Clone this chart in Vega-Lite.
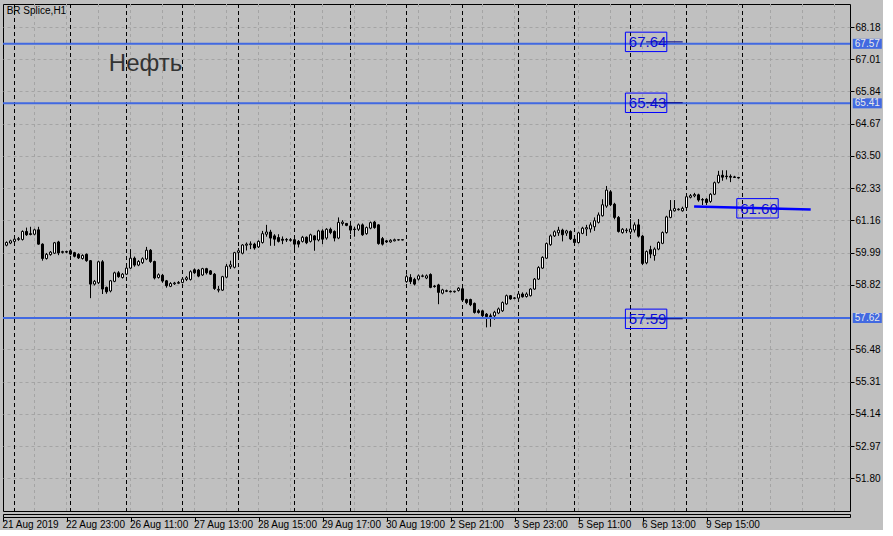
{
 "$schema": "https://vega.github.io/schema/vega-lite/v6.json",
 "background": "#c0c0c0",
 "padding": {"left": 1, "top": 3, "right": 0, "bottom": 0},
 "spacing": 0,
 "config": {
  "view": {"stroke": "#000000", "strokeWidth": 1},
  "font": "Liberation Sans",
  "scale": {"continuousPadding": 0},
  "axis": {"labelFont": "Liberation Sans", "labelFontSize": 10, "labelColor": "#000000", "tickColor": "#000000", "domain": false, "labelOverlap": false}
 },
 "datasets": {
  "candles": [
   {"i":0,"o":60.50,"h":60.55,"l":60.20,"c":60.26},{"i":1,"o":60.26,"h":60.40,"l":60.22,"c":60.36},{"i":2,"o":60.34,"h":60.46,"l":60.30,"c":60.42},{"i":3,"o":60.40,"h":60.53,"l":60.35,"c":60.48},{"i":4,"o":60.47,"h":60.56,"l":60.42,"c":60.50},
   {"i":5,"o":60.47,"h":60.80,"l":60.43,"c":60.76},{"i":6,"o":60.76,"h":60.90,"l":60.60,"c":60.64},{"i":7,"o":60.68,"h":60.93,"l":60.62,"c":60.65},{"i":8,"o":60.66,"h":60.86,"l":60.62,"c":60.82},{"i":9,"o":60.82,"h":60.93,"l":60.28,"c":60.30},
   {"i":10,"o":60.30,"h":60.33,"l":59.70,"c":59.78},{"i":11,"o":59.78,"h":59.98,"l":59.74,"c":59.93},{"i":12,"o":59.92,"h":60.05,"l":59.88,"c":60.01},{"i":13,"o":59.97,"h":60.38,"l":59.94,"c":60.35},{"i":14,"o":60.38,"h":60.42,"l":59.90,"c":59.98},
   {"i":15,"o":60.00,"h":60.06,"l":59.96,"c":60.03},{"i":16,"o":60.03,"h":60.06,"l":59.97,"c":60.01},{"i":17,"o":60.06,"h":60.10,"l":59.90,"c":59.94},{"i":18,"o":59.99,"h":60.02,"l":59.82,"c":59.86},{"i":19,"o":59.93,"h":59.97,"l":59.76,"c":59.80},
   {"i":20,"o":59.78,"h":59.93,"l":59.74,"c":59.89},{"i":21,"o":59.93,"h":59.96,"l":59.66,"c":59.70},{"i":22,"o":59.70,"h":59.72,"l":58.34,"c":58.85},{"i":23,"o":58.85,"h":59.00,"l":58.80,"c":58.95},{"i":24,"o":58.90,"h":59.70,"l":58.85,"c":59.66},
   {"i":25,"o":59.66,"h":59.72,"l":58.49,"c":58.67},{"i":26,"o":58.73,"h":58.76,"l":58.50,"c":58.57},{"i":27,"o":58.60,"h":59.00,"l":58.55,"c":58.97},{"i":28,"o":58.95,"h":59.30,"l":58.92,"c":59.26},{"i":29,"o":59.26,"h":59.32,"l":59.08,"c":59.12},
   {"i":30,"o":59.09,"h":59.25,"l":59.05,"c":59.21},{"i":31,"o":59.21,"h":59.48,"l":59.18,"c":59.43},{"i":32,"o":59.43,"h":60.12,"l":59.40,"c":59.79},{"i":33,"o":59.79,"h":59.85,"l":59.48,"c":59.54},{"i":34,"o":59.54,"h":59.72,"l":59.50,"c":59.67},
   {"i":35,"o":59.63,"h":59.82,"l":59.58,"c":59.77},{"i":36,"o":59.76,"h":60.20,"l":59.72,"c":60.08},{"i":37,"o":60.08,"h":60.12,"l":59.62,"c":59.67},{"i":38,"o":59.67,"h":59.70,"l":59.02,"c":59.07},{"i":39,"o":59.09,"h":59.24,"l":59.05,"c":59.19},
   {"i":40,"o":59.17,"h":59.22,"l":58.90,"c":58.96},{"i":41,"o":58.97,"h":59.00,"l":58.72,"c":58.79},{"i":42,"o":58.77,"h":58.92,"l":58.74,"c":58.87},{"i":43,"o":58.86,"h":58.93,"l":58.82,"c":58.89},{"i":44,"o":58.88,"h":58.96,"l":58.85,"c":58.91},
   {"i":45,"o":58.91,"h":59.08,"l":58.88,"c":59.03},{"i":46,"o":59.02,"h":59.14,"l":58.96,"c":59.08},{"i":47,"o":59.02,"h":59.35,"l":58.98,"c":59.30},{"i":48,"o":59.37,"h":59.42,"l":59.22,"c":59.26},{"i":49,"o":59.36,"h":59.40,"l":59.10,"c":59.14},
   {"i":50,"o":59.18,"h":59.44,"l":59.15,"c":59.41},{"i":51,"o":59.41,"h":59.44,"l":59.20,"c":59.26},{"i":52,"o":59.33,"h":59.36,"l":59.18,"c":59.21},{"i":53,"o":59.21,"h":59.25,"l":58.64,"c":58.69},{"i":54,"o":58.63,"h":58.78,"l":58.55,"c":58.66},
   {"i":55,"o":58.63,"h":59.15,"l":58.60,"c":59.12},{"i":56,"o":59.10,"h":59.58,"l":59.06,"c":59.50},{"i":57,"o":59.48,"h":59.70,"l":59.40,"c":59.55},{"i":58,"o":59.46,"h":60.02,"l":59.42,"c":59.99},{"i":59,"o":60.00,"h":60.16,"l":59.83,"c":60.06},
   {"i":60,"o":59.97,"h":60.30,"l":59.93,"c":60.27},{"i":61,"o":60.26,"h":60.36,"l":60.07,"c":60.30},{"i":62,"o":60.28,"h":60.40,"l":60.12,"c":60.31},{"i":63,"o":60.30,"h":60.35,"l":60.10,"c":60.16},{"i":64,"o":60.20,"h":60.44,"l":60.16,"c":60.40},
   {"i":65,"o":60.36,"h":60.78,"l":60.32,"c":60.68},{"i":66,"o":60.66,"h":61.00,"l":60.57,"c":60.74},{"i":67,"o":60.74,"h":60.82,"l":60.24,"c":60.52},{"i":68,"o":60.60,"h":60.66,"l":60.24,"c":60.48},{"i":69,"o":60.54,"h":60.66,"l":60.36,"c":60.40},
   {"i":70,"o":60.48,"h":60.58,"l":60.30,"c":60.44},{"i":71,"o":60.45,"h":60.52,"l":60.38,"c":60.47},{"i":72,"o":60.46,"h":60.52,"l":60.39,"c":60.44},{"i":73,"o":60.46,"h":60.55,"l":60.06,"c":60.30},{"i":74,"o":60.40,"h":60.45,"l":60.18,"c":60.30},
   {"i":75,"o":60.40,"h":60.60,"l":60.36,"c":60.55},{"i":76,"o":60.55,"h":60.58,"l":60.30,"c":60.35},{"i":77,"o":60.40,"h":60.68,"l":60.36,"c":60.64},{"i":78,"o":60.60,"h":60.62,"l":60.06,"c":60.45},{"i":79,"o":60.45,"h":60.82,"l":60.40,"c":60.78},
   {"i":80,"o":60.78,"h":60.84,"l":60.30,"c":60.48},{"i":81,"o":60.52,"h":60.88,"l":60.46,"c":60.84},{"i":82,"o":60.84,"h":60.90,"l":60.66,"c":60.72},{"i":83,"o":60.76,"h":60.80,"l":60.40,"c":60.52},{"i":84,"o":60.52,"h":61.27,"l":60.48,"c":61.09},
   {"i":85,"o":61.05,"h":61.17,"l":60.97,"c":61.10},{"i":86,"o":61.05,"h":61.07,"l":60.95,"c":60.98},{"i":87,"o":60.96,"h":61.05,"l":60.66,"c":60.81},{"i":88,"o":60.85,"h":60.93,"l":60.57,"c":60.83},{"i":89,"o":60.84,"h":61.05,"l":60.78,"c":61.00},
   {"i":90,"o":61.00,"h":61.05,"l":60.60,"c":60.64},{"i":91,"o":60.68,"h":60.94,"l":60.64,"c":60.90},{"i":92,"o":60.88,"h":61.12,"l":60.84,"c":61.08},{"i":93,"o":61.10,"h":61.14,"l":60.86,"c":60.90},{"i":94,"o":61.00,"h":61.02,"l":60.28,"c":60.32},
   {"i":95,"o":60.50,"h":60.56,"l":60.25,"c":60.30},{"i":96,"o":60.42,"h":60.45,"l":60.34,"c":60.38},{"i":97,"o":60.38,"h":60.48,"l":60.35,"c":60.44},{"i":98,"o":60.42,"h":60.50,"l":60.40,"c":60.46},{"i":99,"o":60.45,"h":60.47,"l":60.43,"c":60.46},
   {"i":100,"o":60.46,"h":60.47,"l":60.44,"c":60.45},{"i":101,"o":58.94,"h":59.20,"l":58.90,"c":59.12},{"i":102,"o":59.09,"h":59.21,"l":58.85,"c":58.94},{"i":103,"o":59.02,"h":59.08,"l":58.80,"c":58.85},{"i":104,"o":59.03,"h":59.20,"l":58.98,"c":59.15},
   {"i":105,"o":59.13,"h":59.20,"l":59.10,"c":59.15},{"i":106,"o":59.07,"h":59.20,"l":59.03,"c":59.15},{"i":107,"o":59.20,"h":59.24,"l":58.70,"c":58.73},{"i":108,"o":58.78,"h":58.82,"l":58.72,"c":58.76},{"i":109,"o":58.82,"h":58.86,"l":58.12,"c":58.55},
   {"i":110,"o":58.52,"h":58.68,"l":58.48,"c":58.64},{"i":111,"o":58.61,"h":58.65,"l":58.56,"c":58.59},{"i":112,"o":58.59,"h":58.62,"l":58.55,"c":58.57},{"i":113,"o":58.57,"h":58.61,"l":58.54,"c":58.59},{"i":114,"o":58.62,"h":58.74,"l":58.58,"c":58.70},
   {"i":115,"o":58.68,"h":58.72,"l":58.22,"c":58.27},{"i":116,"o":58.29,"h":58.32,"l":58.12,"c":58.18},{"i":117,"o":58.29,"h":58.32,"l":58.05,"c":58.10},{"i":118,"o":58.15,"h":58.18,"l":57.78,"c":57.82},{"i":119,"o":57.88,"h":57.94,"l":57.78,"c":57.82},
   {"i":120,"o":57.88,"h":57.92,"l":57.66,"c":57.70},{"i":121,"o":57.76,"h":57.80,"l":57.28,"c":57.67},{"i":122,"o":57.70,"h":57.78,"l":57.30,"c":57.67},{"i":123,"o":57.70,"h":57.88,"l":57.56,"c":57.83},{"i":124,"o":57.80,"h":58.00,"l":57.76,"c":57.95},
   {"i":125,"o":57.88,"h":58.22,"l":57.84,"c":58.18},{"i":126,"o":58.13,"h":58.47,"l":58.10,"c":58.43},{"i":127,"o":58.43,"h":58.45,"l":58.28,"c":58.31},{"i":128,"o":58.33,"h":58.38,"l":58.30,"c":58.35},{"i":129,"o":58.34,"h":58.53,"l":58.30,"c":58.49},
   {"i":130,"o":58.49,"h":58.55,"l":58.36,"c":58.39},{"i":131,"o":58.40,"h":58.55,"l":58.36,"c":58.49},{"i":132,"o":58.43,"h":58.70,"l":58.40,"c":58.67},{"i":133,"o":58.67,"h":59.07,"l":58.64,"c":59.03},{"i":134,"o":59.03,"h":59.50,"l":59.00,"c":59.45},
   {"i":135,"o":59.43,"h":59.86,"l":59.40,"c":59.82},{"i":136,"o":59.79,"h":60.36,"l":59.76,"c":60.32},{"i":137,"o":60.28,"h":60.65,"l":60.24,"c":60.60},{"i":138,"o":60.60,"h":60.80,"l":60.56,"c":60.75},{"i":139,"o":60.71,"h":60.93,"l":60.60,"c":60.81},
   {"i":140,"o":60.81,"h":60.86,"l":60.40,"c":60.64},{"i":141,"o":60.70,"h":60.82,"l":60.60,"c":60.78},{"i":142,"o":60.76,"h":60.80,"l":60.45,"c":60.49},{"i":143,"o":60.48,"h":60.50,"l":60.32,"c":60.36},{"i":144,"o":60.36,"h":60.75,"l":60.32,"c":60.71},
   {"i":145,"o":60.69,"h":60.93,"l":60.66,"c":60.88},{"i":146,"o":60.85,"h":61.00,"l":60.60,"c":60.90},{"i":147,"o":60.85,"h":61.09,"l":60.72,"c":61.00},{"i":148,"o":60.93,"h":61.27,"l":60.78,"c":61.15},{"i":149,"o":61.09,"h":61.45,"l":61.05,"c":61.36},
   {"i":150,"o":61.33,"h":61.93,"l":61.30,"c":61.73},{"i":151,"o":61.68,"h":62.41,"l":61.62,"c":62.26},{"i":152,"o":62.20,"h":62.26,"l":61.68,"c":61.73},{"i":153,"o":61.75,"h":61.80,"l":61.20,"c":61.27},{"i":154,"o":61.27,"h":61.32,"l":60.72,"c":60.76},
   {"i":155,"o":60.72,"h":60.88,"l":60.68,"c":60.84},{"i":156,"o":60.79,"h":60.88,"l":60.70,"c":60.81},{"i":157,"o":60.74,"h":61.21,"l":60.66,"c":60.85},{"i":158,"o":60.81,"h":61.09,"l":60.72,"c":61.00},{"i":159,"o":61.00,"h":61.21,"l":60.54,"c":60.59},
   {"i":160,"o":60.59,"h":60.63,"l":59.54,"c":59.60},{"i":161,"o":59.62,"h":60.07,"l":59.57,"c":60.03},{"i":162,"o":60.10,"h":60.24,"l":59.79,"c":59.94},{"i":163,"o":59.89,"h":60.18,"l":59.70,"c":60.12},{"i":164,"o":60.12,"h":60.40,"l":60.08,"c":60.36},
   {"i":165,"o":60.33,"h":60.76,"l":60.30,"c":60.72},{"i":166,"o":60.72,"h":61.33,"l":60.68,"c":61.29},{"i":167,"o":61.27,"h":61.90,"l":61.24,"c":61.53},{"i":168,"o":61.51,"h":61.90,"l":61.48,"c":61.59},{"i":169,"o":61.55,"h":61.60,"l":61.52,"c":61.57},
   {"i":170,"o":61.51,"h":61.66,"l":61.48,"c":61.60},{"i":171,"o":61.63,"h":62.08,"l":61.60,"c":62.02},{"i":172,"o":62.00,"h":62.12,"l":61.96,"c":62.06},{"i":173,"o":62.05,"h":62.16,"l":62.00,"c":62.10},{"i":174,"o":62.09,"h":62.13,"l":61.84,"c":61.90},
   {"i":175,"o":61.90,"h":61.97,"l":61.72,"c":61.92},{"i":176,"o":61.93,"h":61.97,"l":61.72,"c":61.81},{"i":177,"o":61.85,"h":62.15,"l":61.80,"c":62.11},{"i":178,"o":62.11,"h":62.57,"l":62.08,"c":62.53},{"i":179,"o":62.54,"h":62.96,"l":62.50,"c":62.80},
   {"i":180,"o":62.80,"h":62.98,"l":62.60,"c":62.73},{"i":181,"o":62.77,"h":62.98,"l":62.65,"c":62.75},{"i":182,"o":62.76,"h":62.83,"l":62.55,"c":62.73},{"i":183,"o":62.74,"h":62.78,"l":62.70,"c":62.72},{"i":184,"o":62.72,"h":62.74,"l":62.68,"c":62.70}
  ],
  "seps": [{"i":3},{"i":17},{"i":31},{"i":45},{"i":59},{"i":73},{"i":87},{"i":101},{"i":115},{"i":129},{"i":143},{"i":157},{"i":171},{"i":185}],
  "vgrid": [{"i":8},{"i":16},{"i":24},{"i":32},{"i":40},{"i":48},{"i":56},{"i":64},{"i":72},{"i":80},{"i":88},{"i":96},{"i":104},{"i":112},{"i":120},{"i":128},{"i":136},{"i":144},{"i":152},{"i":160},{"i":168},{"i":176},{"i":184},{"i":192},{"i":200},{"i":208}],
  "hlines": [{"p":67.57},{"p":65.41},{"p":57.62}],
  "plabels": [{"lbl":"67.64","p":67.64,"i":160.9,"end":170.05},{"lbl":"65.43","p":65.43,"i":160.9,"end":170.05},{"lbl":"57.59","p":57.59,"i":160.9,"end":170.05},{"lbl":"61.60","p":61.60,"i":188.75,"end":188.75}],
  "trend": [{"i":172.9,"p":61.665},{"i":202.05,"p":61.555}]
 },
 "vconcat": [
  {
   "width": 847,
   "height": 507,
   "layer": [
    {
     "data": {"name": "vgrid"},
     "mark": {"type": "rule", "color": "#a4a4a4", "strokeDash": [3, 3], "strokeWidth": 1},
     "encoding": {
      "x": {"field": "i", "type": "quantitative", "scale": {"domain": [0.125, 211.875], "nice": false, "zero": false, "padding": 0}, "axis": null}
     }
    },
    {
     "data": {"name": "seps"},
     "mark": {"type": "rule", "color": "#000000", "strokeDash": [4, 3], "strokeWidth": 1},
     "encoding": {
      "x": {"field": "i", "type": "quantitative", "scale": {"domain": [0.125, 211.875], "nice": false, "zero": false, "padding": 0}, "axis": null}
     }
    },
    {
     "data": {"name": "candles"},
     "mark": {"type": "rule", "color": "#000000", "strokeWidth": 1, "clip": true},
     "encoding": {
      "x": {"field": "i", "type": "quantitative", "scale": {"domain": [0.125, 211.875], "nice": false, "zero": false, "padding": 0}, "axis": null},
      "y": {"field": "l", "type": "quantitative", "title": null, "scale": {"domain": [50.6158, 69.0147], "nice": false, "zero": false, "padding": 0},
        "axis": {"orient": "right", "values": [68.18, 67.01, 65.84, 64.67, 63.50, 62.33, 61.16, 59.99, 58.82, 56.48, 55.31, 54.14, 52.97, 51.80], "format": ".2f", "tickSize": 4, "labelPadding": 1, "grid": true, "gridColor": "#a4a4a4", "gridDash": [3, 3], "title": null}},
      "y2": {"field": "h"}
     }
    },
    {
     "data": {"name": "candles"},
     "mark": {"type": "bar", "size": 2, "stroke": "#000000", "strokeWidth": 1, "clip": true},
     "encoding": {
      "x": {"field": "i", "type": "quantitative", "scale": {"domain": [0.125, 211.875], "nice": false, "zero": false, "padding": 0}, "axis": null},
      "y": {"field": "o", "type": "quantitative", "title": null, "scale": {"domain": [50.6158, 69.0147], "nice": false, "zero": false, "padding": 0},
        "axis": {"orient": "right", "values": [68.18, 67.01, 65.84, 64.67, 63.50, 62.33, 61.16, 59.99, 58.82, 56.48, 55.31, 54.14, 52.97, 51.80], "format": ".2f", "tickSize": 4, "labelPadding": 1, "grid": true, "gridColor": "#a4a4a4", "gridDash": [3, 3], "title": null}},
      "y2": {"field": "c"},
      "fill": {"condition": {"test": "datum.c >= datum.o", "value": "#ffffff"}, "value": "#000000"}
     }
    },
    {
     "data": {"name": "hlines"},
     "mark": {"type": "rule", "color": "#4169e1", "strokeWidth": 2},
     "encoding": {
      "y": {"field": "p", "type": "quantitative", "title": null, "scale": {"domain": [50.6158, 69.0147], "nice": false, "zero": false, "padding": 0},
        "axis": {"orient": "right", "values": [68.18, 67.01, 65.84, 64.67, 63.50, 62.33, 61.16, 59.99, 58.82, 56.48, 55.31, 54.14, 52.97, 51.80], "format": ".2f", "tickSize": 4, "labelPadding": 1, "grid": true, "gridColor": "#a4a4a4", "gridDash": [3, 3], "title": null}}
     }
    },
    {
     "data": {"name": "hlines"},
     "mark": {"type": "point", "shape": "M-1,-0.345H1V0.345H-1Z", "size": 841, "filled": true, "fill": "#4169e1", "strokeWidth": 0, "opacity": 1},
     "encoding": {
      "x": {"datum": 216.2, "type": "quantitative", "scale": {"domain": [0.125, 211.875], "nice": false, "zero": false, "padding": 0}, "axis": null},
      "y": {"field": "p", "type": "quantitative", "title": null, "scale": {"domain": [50.6158, 69.0147], "nice": false, "zero": false, "padding": 0},
        "axis": {"orient": "right", "values": [68.18, 67.01, 65.84, 64.67, 63.50, 62.33, 61.16, 59.99, 58.82, 56.48, 55.31, 54.14, 52.97, 51.80], "format": ".2f", "tickSize": 4, "labelPadding": 1, "grid": true, "gridColor": "#a4a4a4", "gridDash": [3, 3], "title": null}}
     }
    },
    {
     "data": {"name": "hlines"},
     "mark": {"type": "text", "fontSize": 10, "color": "#e8e8e8", "align": "center", "baseline": "middle"},
     "encoding": {
      "x": {"datum": 216.2, "type": "quantitative", "scale": {"domain": [0.125, 211.875], "nice": false, "zero": false, "padding": 0}, "axis": null},
      "y": {"field": "p", "type": "quantitative", "title": null, "scale": {"domain": [50.6158, 69.0147], "nice": false, "zero": false, "padding": 0},
        "axis": {"orient": "right", "values": [68.18, 67.01, 65.84, 64.67, 63.50, 62.33, 61.16, 59.99, 58.82, 56.48, 55.31, 54.14, 52.97, 51.80], "format": ".2f", "tickSize": 4, "labelPadding": 1, "grid": true, "gridColor": "#a4a4a4", "gridDash": [3, 3], "title": null}},
      "text": {"field": "p", "type": "quantitative", "format": ".2f"}
     }
    },
    {
     "data": {"name": "plabels"},
     "mark": {"type": "rule", "color": "#000080", "strokeWidth": 1},
     "encoding": {
      "x": {"field": "i", "type": "quantitative", "scale": {"domain": [0.125, 211.875], "nice": false, "zero": false, "padding": 0}, "axis": null},
      "x2": {"field": "end"},
      "y": {"field": "p", "type": "quantitative", "title": null, "scale": {"domain": [50.6158, 69.0147], "nice": false, "zero": false, "padding": 0},
        "axis": {"orient": "right", "values": [68.18, 67.01, 65.84, 64.67, 63.50, 62.33, 61.16, 59.99, 58.82, 56.48, 55.31, 54.14, 52.97, 51.80], "format": ".2f", "tickSize": 4, "labelPadding": 1, "grid": true, "gridColor": "#a4a4a4", "gridDash": [3, 3], "title": null}}
     }
    },
    {
     "data": {"name": "trend"},
     "mark": {"type": "line", "color": "#0000ff", "strokeWidth": 2.5},
     "encoding": {
      "x": {"field": "i", "type": "quantitative", "scale": {"domain": [0.125, 211.875], "nice": false, "zero": false, "padding": 0}, "axis": null},
      "y": {"field": "p", "type": "quantitative", "title": null, "scale": {"domain": [50.6158, 69.0147], "nice": false, "zero": false, "padding": 0},
        "axis": {"orient": "right", "values": [68.18, 67.01, 65.84, 64.67, 63.50, 62.33, 61.16, 59.99, 58.82, 56.48, 55.31, 54.14, 52.97, 51.80], "format": ".2f", "tickSize": 4, "labelPadding": 1, "grid": true, "gridColor": "#a4a4a4", "gridDash": [3, 3], "title": null}}
     }
    },
    {
     "data": {"name": "plabels"},
     "mark": {"type": "point", "shape": "M-1,-0.469H1V0.469H-1Z", "size": 1714, "filled": false, "stroke": "#0000ff", "strokeWidth": 1, "opacity": 1},
     "encoding": {
      "x": {"field": "i", "type": "quantitative", "scale": {"domain": [0.125, 211.875], "nice": false, "zero": false, "padding": 0}, "axis": null},
      "y": {"field": "p", "type": "quantitative", "title": null, "scale": {"domain": [50.6158, 69.0147], "nice": false, "zero": false, "padding": 0},
        "axis": {"orient": "right", "values": [68.18, 67.01, 65.84, 64.67, 63.50, 62.33, 61.16, 59.99, 58.82, 56.48, 55.31, 54.14, 52.97, 51.80], "format": ".2f", "tickSize": 4, "labelPadding": 1, "grid": true, "gridColor": "#a4a4a4", "gridDash": [3, 3], "title": null}}
     }
    },
    {
     "data": {"name": "plabels"},
     "mark": {"type": "text", "fontSize": 15, "color": "#0a0ad8", "align": "center", "baseline": "middle", "dx": 1.5, "dy": 0.5},
     "encoding": {
      "x": {"field": "i", "type": "quantitative", "scale": {"domain": [0.125, 211.875], "nice": false, "zero": false, "padding": 0}, "axis": null},
      "y": {"field": "p", "type": "quantitative", "title": null, "scale": {"domain": [50.6158, 69.0147], "nice": false, "zero": false, "padding": 0},
        "axis": {"orient": "right", "values": [68.18, 67.01, 65.84, 64.67, 63.50, 62.33, 61.16, 59.99, 58.82, 56.48, 55.31, 54.14, 52.97, 51.80], "format": ".2f", "tickSize": 4, "labelPadding": 1, "grid": true, "gridColor": "#a4a4a4", "gridDash": [3, 3], "title": null}},
      "text": {"field": "lbl"}
     }
    },
    {
     "data": {"values": [{"t": "Нефть"}]},
     "mark": {"type": "text", "fontSize": 24, "color": "#333333", "align": "center", "baseline": "middle"},
     "encoding": {
      "x": {"datum": 35.75, "type": "quantitative", "scale": {"domain": [0.125, 211.875], "nice": false, "zero": false, "padding": 0}, "axis": null},
      "y": {"datum": 66.855, "type": "quantitative", "title": null, "scale": {"domain": [50.6158, 69.0147], "nice": false, "zero": false, "padding": 0},
        "axis": {"orient": "right", "values": [68.18, 67.01, 65.84, 64.67, 63.50, 62.33, 61.16, 59.99, 58.82, 56.48, 55.31, 54.14, 52.97, 51.80], "format": ".2f", "tickSize": 4, "labelPadding": 1, "grid": true, "gridColor": "#a4a4a4", "gridDash": [3, 3], "title": null}},
      "text": {"field": "t"}
     }
    },
    {
     "data": {"values": [{"t": "BR Splice,H1"}]},
     "mark": {"type": "text", "fontSize": 10, "color": "#000000", "align": "left", "baseline": "middle"},
     "encoding": {
      "x": {"datum": 1.05, "type": "quantitative", "scale": {"domain": [0.125, 211.875], "nice": false, "zero": false, "padding": 0}, "axis": null},
      "y": {"datum": 68.76, "type": "quantitative", "title": null, "scale": {"domain": [50.6158, 69.0147], "nice": false, "zero": false, "padding": 0},
        "axis": {"orient": "right", "values": [68.18, 67.01, 65.84, 64.67, 63.50, 62.33, 61.16, 59.99, 58.82, 56.48, 55.31, 54.14, 52.97, 51.80], "format": ".2f", "tickSize": 4, "labelPadding": 1, "grid": true, "gridColor": "#a4a4a4", "gridDash": [3, 3], "title": null}},
      "text": {"field": "t"}
     }
    }
   ]
  },
  {
   "width": 847,
   "height": 3,
   "data": {"name": "vgrid"},
   "mark": {"type": "point", "opacity": 0},
   "encoding": {
    "x": {"field": "i", "type": "quantitative", "scale": {"domain": [0.125, 211.875], "nice": false, "zero": false, "padding": 0},
      "axis": {"orient": "bottom", "values": [0.125, 16, 32, 48, 64, 80, 96, 112, 128, 144, 160, 176], "labelExpr": "['21 Aug 2019','22 Aug 23:00','26 Aug 11:00','27 Aug 13:00','28 Aug 15:00','29 Aug 17:00','30 Aug 19:00','2 Sep 21:00','3 Sep 23:00','5 Sep 11:00','6 Sep 13:00','9 Sep 15:00'][round(datum.value/16)]", "labelAlign": "left", "labelFlush": false, "labelBaseline": "top", "tickSize": 4, "labelPadding": -2, "labelOffset": -1, "grid": false, "title": null}}
   }
  }
 ]
}
